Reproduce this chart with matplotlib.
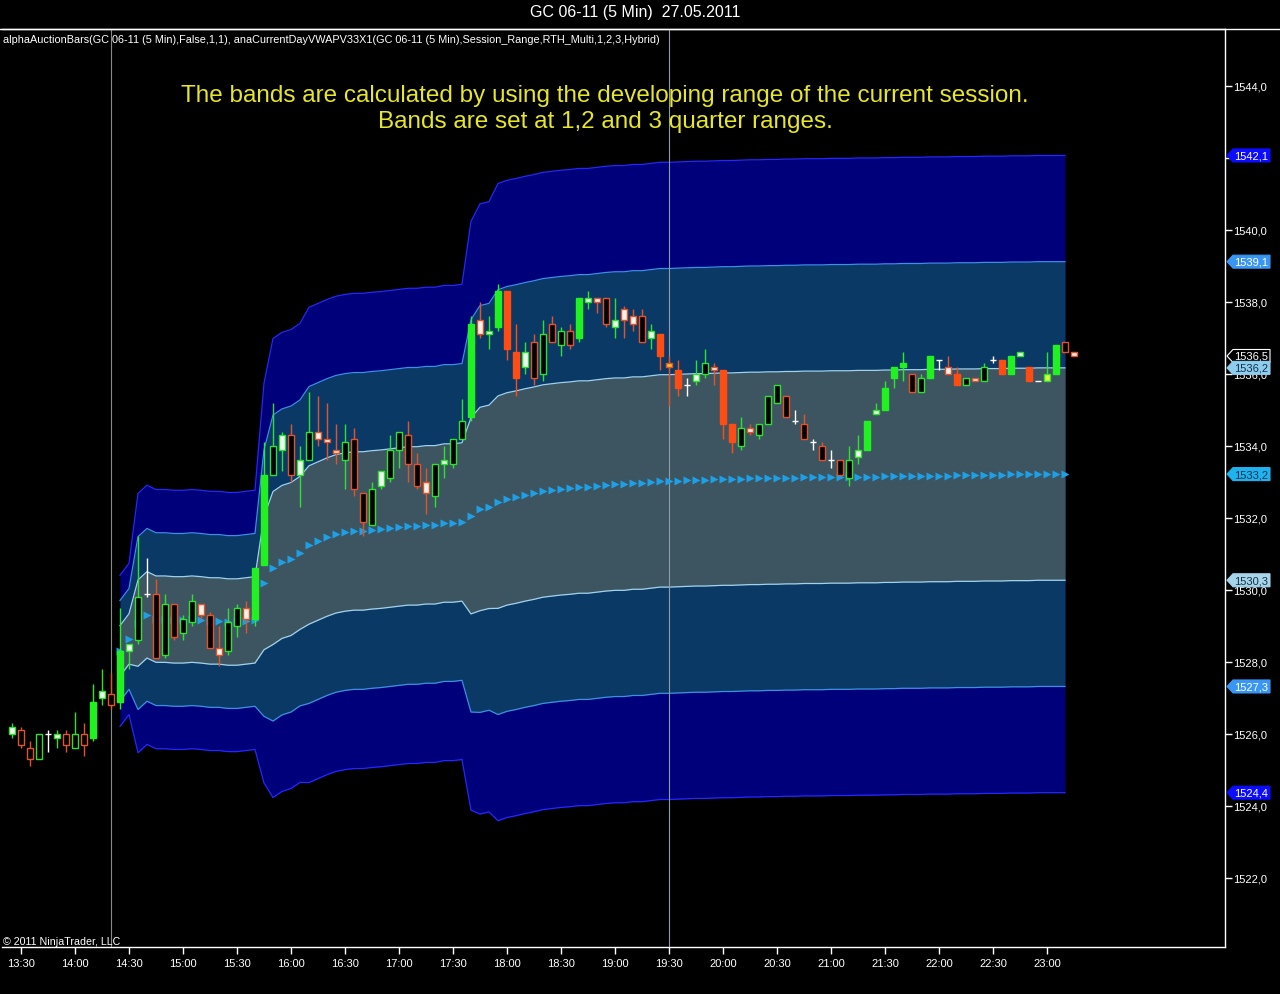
import numpy as np
import matplotlib
matplotlib.use("Agg")
import matplotlib.pyplot as plt
from matplotlib.patches import Rectangle, Polygon
from matplotlib.lines import Line2D

plt.rcParams['font.family'] = ['Liberation Sans', 'DejaVu Sans']

# 5 minute bars, bar k closes at 13:25 + 5*k
styles = list("wrrgxwrgrG" "wrGwgxrgrg" "goroggoGGg" "wrwgooogrr" "gwggrrogwg"
              "gGowGRRwrg" "rgrGworwoo" "rwRYRxwgoR" "Rgogggrxrx" "rxrgwGwGGG"
              "rgGxoRgogx" "RGwRxyGro")

opens = [1526.0, 1526.1, 1525.6, 1525.3, 1526.0, 1525.9, 1526.0, 1525.6, 1526.0, 1525.9,
         1527.0, 1527.1, 1526.9, 1528.3, 1528.6, 1529.9, 1529.9, 1528.2, 1529.6, 1528.8,
         1529.1, 1529.6, 1529.3, 1528.4, 1528.3, 1529.0, 1529.5, 1529.2, 1530.7, 1533.2,
         1533.9, 1534.3, 1533.2, 1533.6, 1534.4, 1534.2, 1533.9, 1533.6, 1534.2, 1532.7,
         1531.8, 1532.9, 1533.1, 1533.9, 1534.3, 1533.5, 1533.0, 1532.6, 1533.5, 1533.5,
         1534.2, 1534.8, 1537.5, 1537.1, 1537.3, 1538.3, 1536.6, 1536.2, 1536.9, 1536.0,
         1537.4, 1536.8, 1537.2, 1537.0, 1538.0, 1538.1, 1538.1, 1537.3, 1537.8, 1537.6,
         1537.6, 1537.0, 1537.1, 1536.3, 1536.1, 1535.7, 1535.8, 1536.0, 1536.2, 1536.1,
         1534.6, 1534.0, 1534.5, 1534.3, 1534.6, 1535.2, 1535.4, 1534.7, 1534.6, 1534.1,
         1534.0, 1533.6, 1533.6, 1533.1, 1533.7, 1533.9, 1534.9, 1535.0, 1535.9, 1536.2,
         1536.0, 1535.5, 1535.9, 1536.4, 1536.2, 1536.0, 1535.7, 1535.9, 1535.8, 1536.4,
         1536.4, 1536.0, 1536.5, 1536.2, 1535.8, 1535.8, 1536.0, 1536.9, 1536.6]
highs = [1526.3, 1526.2, 1525.8, 1526.0, 1526.1, 1526.1, 1526.1, 1526.6, 1526.3, 1527.4,
         1527.8, 1527.7, 1529.5, 1528.5, 1531.5, 1530.9, 1530.3, 1529.9, 1529.6, 1529.3,
         1529.9, 1529.6, 1529.4, 1529.0, 1529.5, 1529.6, 1529.7, 1530.6, 1534.1, 1535.2,
         1534.4, 1534.6, 1534.0, 1535.5, 1535.4, 1535.2, 1534.6, 1534.6, 1534.5, 1532.7,
         1533.0, 1533.3, 1534.3, 1534.4, 1534.7, 1533.8, 1533.4, 1533.5, 1534.0, 1534.2,
         1535.3, 1537.6, 1538.0, 1537.6, 1538.5, 1538.3, 1537.4, 1536.9, 1537.1, 1537.5,
         1537.6, 1537.3, 1537.4, 1538.1, 1538.3, 1538.1, 1538.1, 1538.1, 1537.9, 1537.8,
         1537.8, 1537.4, 1537.1, 1536.5, 1536.4, 1535.9, 1536.4, 1536.7, 1536.3, 1536.1,
         1534.6, 1534.8, 1534.6, 1534.6, 1535.4, 1535.7, 1535.4, 1535.0, 1534.9, 1534.2,
         1534.1, 1533.9, 1533.6, 1534.0, 1534.3, 1534.7, 1535.2, 1535.8, 1536.2, 1536.6,
         1536.0, 1536.0, 1536.5, 1536.4, 1536.5, 1536.2, 1535.9, 1535.9, 1536.3, 1536.5,
         1536.4, 1536.5, 1536.6, 1536.2, 1535.8, 1536.6, 1536.8, 1536.9, 1536.6]
lows = [1525.9, 1525.6, 1525.1, 1525.3, 1525.5, 1525.6, 1525.5, 1525.6, 1525.4, 1525.8,
        1526.8, 1526.7, 1526.7, 1527.8, 1528.5, 1529.8, 1528.1, 1528.1, 1528.6, 1528.6,
        1529.0, 1529.2, 1528.4, 1527.9, 1528.2, 1528.7, 1528.8, 1529.0, 1530.7, 1533.2,
        1533.3, 1533.0, 1532.3, 1533.6, 1534.0, 1533.6, 1533.5, 1532.8, 1532.6, 1531.5,
        1531.8, 1532.8, 1533.0, 1533.4, 1533.0, 1532.8, 1532.1, 1532.3, 1533.1, 1533.4,
        1534.2, 1534.7, 1537.0, 1536.7, 1537.2, 1536.4, 1535.4, 1536.0, 1535.7, 1535.8,
        1536.9, 1536.5, 1536.7, 1536.9, 1537.8, 1537.7, 1537.3, 1537.0, 1537.0, 1537.2,
        1536.9, 1536.7, 1536.1, 1535.1, 1535.4, 1535.4, 1535.7, 1535.9, 1535.7, 1534.2,
        1533.8, 1533.9, 1534.3, 1534.2, 1534.6, 1535.2, 1534.8, 1534.6, 1534.2, 1533.9,
        1533.6, 1533.4, 1533.2, 1532.9, 1533.5, 1533.9, 1534.9, 1535.0, 1535.6, 1535.8,
        1535.5, 1535.5, 1535.9, 1536.1, 1536.0, 1535.7, 1535.7, 1535.8, 1535.8, 1536.3,
        1536.0, 1536.0, 1536.5, 1535.8, 1535.8, 1535.8, 1536.0, 1536.6, 1536.5]
closes = [1526.2, 1525.7, 1525.3, 1526.0, 1526.0, 1526.0, 1525.7, 1526.0, 1525.7, 1526.9,
          1527.2, 1526.8, 1528.3, 1528.5, 1529.8, 1529.9, 1528.1, 1529.6, 1528.7, 1529.2,
          1529.7, 1529.3, 1528.4, 1528.2, 1529.1, 1529.5, 1529.2, 1530.6, 1533.2, 1534.0,
          1534.3, 1533.2, 1533.6, 1534.4, 1534.2, 1534.1, 1533.8, 1534.1, 1532.8, 1531.9,
          1532.8, 1533.3, 1533.9, 1534.4, 1533.5, 1532.9, 1532.7, 1533.5, 1533.6, 1534.2,
          1534.7, 1537.4, 1537.1, 1537.2, 1538.3, 1536.7, 1535.9, 1536.6, 1535.9, 1537.1,
          1536.9, 1537.2, 1536.8, 1538.1, 1538.1, 1538.0, 1537.4, 1537.5, 1537.5, 1537.4,
          1536.9, 1537.2, 1536.5, 1536.2, 1535.6, 1535.7, 1536.0, 1536.3, 1536.1, 1534.6,
          1534.1, 1534.5, 1534.4, 1534.6, 1535.4, 1535.7, 1534.8, 1534.7, 1534.2, 1534.1,
          1533.6, 1533.6, 1533.2, 1533.6, 1533.9, 1534.7, 1535.0, 1535.6, 1536.2, 1536.3,
          1535.5, 1535.9, 1536.5, 1536.4, 1536.0, 1535.7, 1535.9, 1535.8, 1536.2, 1536.4,
          1536.0, 1536.5, 1536.6, 1535.8, 1535.8, 1536.0, 1536.8, 1536.6, 1536.5]

# session VWAP, from the first bar of the session (bar 12, 14:25) on
session_start = 12
vwap = [1528.31, 1528.64, 1529.08, 1529.31, 1529.19, 1529.19, 1529.17, 1529.17, 1529.19, 1529.17,
        1529.14, 1529.14, 1529.11, 1529.11, 1529.14, 1529.17, 1530.19, 1530.61, 1530.78, 1530.86,
        1531.03, 1531.25, 1531.36, 1531.47, 1531.56, 1531.61, 1531.64, 1531.64, 1531.67, 1531.69,
        1531.72, 1531.75, 1531.78, 1531.78, 1531.81, 1531.81, 1531.86, 1531.86, 1531.89, 1532.06,
        1532.25, 1532.31, 1532.44, 1532.53, 1532.58, 1532.64, 1532.69, 1532.75, 1532.78, 1532.81,
        1532.83, 1532.86, 1532.86, 1532.89, 1532.92, 1532.94, 1532.94, 1532.97, 1532.97, 1533.00,
        1533.03, 1533.03, 1533.04, 1533.05, 1533.06, 1533.06, 1533.07, 1533.08, 1533.08, 1533.09,
        1533.10, 1533.10, 1533.11, 1533.11, 1533.12, 1533.12, 1533.13, 1533.13, 1533.13, 1533.14,
        1533.14, 1533.14, 1533.15, 1533.15, 1533.15, 1533.16, 1533.16, 1533.17, 1533.17, 1533.17,
        1533.18, 1533.18, 1533.18, 1533.19, 1533.19, 1533.19, 1533.20, 1533.20, 1533.20, 1533.21,
        1533.21, 1533.21, 1533.22, 1533.22, 1533.22, 1533.22]

session_breaks = [11, 73]
tick_bars = [1 + 6 * i for i in range(20)]
tick_labels = ["13:30", "14:00", "14:30", "15:00", "15:30", "16:00", "16:30", "17:00", "17:30", "18:00",
               "18:30", "19:00", "19:30", "20:00", "20:30", "21:00", "21:30", "22:00", "22:30", "23:00"]

W, H = 1280, 995
fig = plt.figure(figsize=(W / 100, H / 100), dpi=100, facecolor='black')
ax = fig.add_axes([2 / W, 1 - 948 / H, 1223 / W, 918 / H])
ax.set_facecolor('black')
ax.set_xlim(-1.11, 134.78)
ax.set_ylim(1520.083, 1545.583)

# bands: vwap +/- 1,2,3 quarters of the developing session range
hi = np.array(highs)
lo = np.array(lows)
c = np.array(vwap)
kb = np.arange(session_start, session_start + len(c))
rng = np.maximum.accumulate(hi[kb]) - np.minimum.accumulate(lo[kb])
q = rng / 4

ax.fill_between(kb, c - 3 * q, c + 3 * q, color='#00007a', lw=0, zorder=1)
ax.fill_between(kb, c - 2 * q, c + 2 * q, color='#0b3966', lw=0, zorder=1.1)
ax.fill_between(kb, c - q, c + q, color='#3d5561', lw=0, zorder=1.2)
for m, col in ((3, '#2626ff'), (2, '#3c8fe2'), (1, '#a0d2ee')):
    ax.plot(kb, c + m * q, color=col, lw=0.9, zorder=2)
    ax.plot(kb, c - m * q, color=col, lw=0.9, zorder=2)

ax.axvline(session_breaks[0], color='#8a8a8a', lw=0.8, zorder=3)
ax.axvline(session_breaks[1], color='#8d9cad', lw=0.8, zorder=3)

ax.plot(kb, c, ls='none', marker='>', ms=5.3, color='#1e9fe6', mec='none', zorder=4)

# candles
face = {'G': '#1ff21f', 'R': '#ff4c12', 'g': 'black', 'r': 'black',
        'w': '#eefff0', 'o': '#fff2ea', 'Y': '#ffc41e', 'y': '#d6ff3a'}
edge = {'G': '#1ff21f', 'R': '#ff4c12', 'g': '#2fe02f', 'r': '#e2532c',
        'w': '#2fe02f', 'o': '#e2532c', 'Y': '#e2532c', 'y': '#2fe02f'}
bw = 0.62
for k, st in enumerate(styles):
    o, h, l, cl = opens[k], highs[k], lows[k], closes[k]
    if st == 'x':
        ax.vlines(k, l, h, color='white', lw=1, zorder=5)
        ax.hlines(cl, k - 0.36, k + 0.36, color='white', lw=1, zorder=5)
        continue
    ax.vlines(k, l, h, color=edge[st], lw=1, zorder=5)
    bot = min(o, cl)
    ht = max(abs(cl - o), 0.08)
    ax.add_patch(Rectangle((k - bw / 2, bot), bw, ht, facecolor=face[st],
                           edgecolor=edge[st], lw=1, zorder=6))

# axes
ax.yaxis.tick_right()
yt = np.arange(1522, 1545, 2)
ax.set_yticks(yt)
# the 1542,0 label sits fully under the 1542,1 marker, as in the original
ax.set_yticklabels(["" if v == 1542 else f"{v:.1f}".replace('.', ',') for v in yt])
ax.tick_params(axis='y', colors='white', length=5, width=1, labelsize=8, pad=0.5)
ax.set_xticks(tick_bars)
ax.set_xticklabels(tick_labels)
ax.tick_params(axis='x', colors='white', length=5, width=1, labelsize=8, pad=3)
ax.spines['left'].set_visible(False)
for sp in ('top', 'right', 'bottom'):
    ax.spines[sp].set_color('white')
    ax.spines[sp].set_linewidth(1)

fig.add_artist(Line2D([0, 1], [1 - 30 / H, 1 - 30 / H], color='white', lw=1))

# price markers on the right axis
ov = fig.add_axes([0, 0, 1, 1], zorder=10)
ov.set_xlim(0, W)
ov.set_ylim(H, 0)
ov.axis('off')
ov.patch.set_alpha(0)

cl_last, ql = c[-1], q[-1]
tags = [(cl_last + 3 * ql, '#0c0cff', 'white', '#0c0cff'),
        (cl_last + 2 * ql, '#3a96f5', 'white', '#3a96f5'),
        (closes[-1], 'black', 'white', 'white'),
        (cl_last + ql, '#8fcdee', '#12324c', '#8fcdee'),
        (cl_last, '#1eb2ee', '#12324c', '#1eb2ee'),
        (cl_last - ql, '#a8d4ea', '#12324c', '#a8d4ea'),
        (cl_last - 2 * ql, '#3a96f5', 'white', '#3a96f5'),
        (cl_last - 3 * ql, '#0c0cff', 'white', '#0c0cff')]
for val, bg, fg, bd in tags:
    yp = H - ax.transData.transform((0, val))[1]
    pts = [(1227, yp), (1233, yp - 6.5), (1270, yp - 6.5), (1270, yp + 6.5), (1233, yp + 6.5)]
    ov.add_patch(Polygon(pts, closed=True, facecolor=bg, edgecolor=bd, lw=0.8))
    ov.text(1251, yp, f"{val:.1f}".replace('.', ','), color=fg, fontsize=8,
            ha='center', va='center')

# texts
fig.text(635 / W, 1 - 12 / H, "GC 06-11 (5 Min)  27.05.2011", color='white',
         fontsize=11.5, ha='center', va='center')
fig.text(3 / W, 1 - 40 / H,
         "alphaAuctionBars(GC 06-11 (5 Min),False,1,1), anaCurrentDayVWAPV33X1(GC 06-11 (5 Min),"
         "Session_Range,RTH_Multi,1,2,3,Hybrid)",
         color='white', fontsize=7.8, ha='left', va='center')
fig.text(605 / W, 1 - 96 / H,
         "The bands are calculated by using the developing range of the current session.",
         color='#e6e62a', fontsize=17.5, ha='center', va='center')
fig.text(605 / W, 1 - 122 / H, "Bands are set at 1,2 and 3 quarter ranges.",
         color='#e6e62a', fontsize=17.5, ha='center', va='center')
fig.text(3 / W, 1 - 942 / H, "\u00a9 2011 NinjaTrader, LLC", color='white',
         fontsize=7.7, ha='left', va='center')

fig.savefig("out.png", dpi=100, facecolor='black')
